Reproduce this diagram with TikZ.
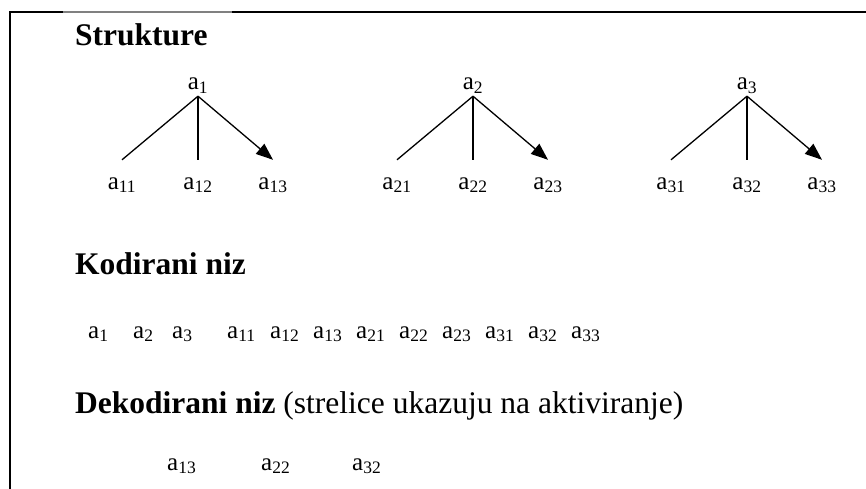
\documentclass[tikz,border=0pt]{standalone}
\usepackage{fontspec}
\setmainfont{Liberation Serif}
\usepackage{tikz}
\usetikzlibrary{arrows.meta}
\newcommand{\alab}[1]{a\textsubscript{#1}}

\begin{document}
\begin{tikzpicture}[x=1pt,y=-1pt,
    heading/.style={anchor=base west,inner sep=0,font=\fontsize{31.5}{36}\selectfont},
    elem/.style={inner sep=0,font=\fontsize{25}{30}\selectfont},
    root/.style={elem,anchor=base,text depth=6pt},
    leaf/.style={elem,anchor=base,text height=29pt},
    seqitem/.style={elem,anchor=base west},
    branch/.style={line width=1.3pt}]
  \useasboundingbox (0,0) rectangle (866,489);
  \draw[line width=1.5pt] (10,489) -- (10,12) -- (63,12);
  \draw[line width=1.5pt,gray] (63,12) -- (232,12);
  \draw[line width=1.5pt] (232,12) -- (866,12);
  \node[heading] (strukture) at (75,46) {\textbf{Strukture}};
  \foreach \t/\x in {1/198,2/473,3/747}{
    \node[root] (r\t) at (\x,90) {\alab{\t}};
    \node[leaf] (c\t1) at (\x-76,189) {\alab{\t1}};
    \node[leaf] (c\t2) at (\x,189) {\alab{\t2}};
    \node[leaf] (c\t3) at (\x+75,189) {\alab{\t3}};
    \draw[branch] (r\t.south) -- (c\t1.north);
    \draw[branch] (r\t.south) -- (c\t2.north);
    \draw[branch,-{Triangle[length=17pt,width=13pt]}] (r\t.south) -- (c\t3.north);
  }
  \node[heading] (kodirani) at (75,274) {\textbf{Kodirani niz}};
  \foreach \s/\x in {1/88,2/133,3/172,11/227,12/270,13/313,21/356,22/399,23/442,31/485,32/528,33/571}
    \node[seqitem] (s\s) at (\x,338) {\alab{\s}};
  \node[heading] (dekodirani) at (75,413) {\textbf{Dekodirani niz} (strelice ukazuju na aktiviranje)};
  \foreach \s/\x in {13/167,22/261,32/352}
    \node[seqitem] (d\s) at (\x,470) {\alab{\s}};
\end{tikzpicture}
\end{document}
